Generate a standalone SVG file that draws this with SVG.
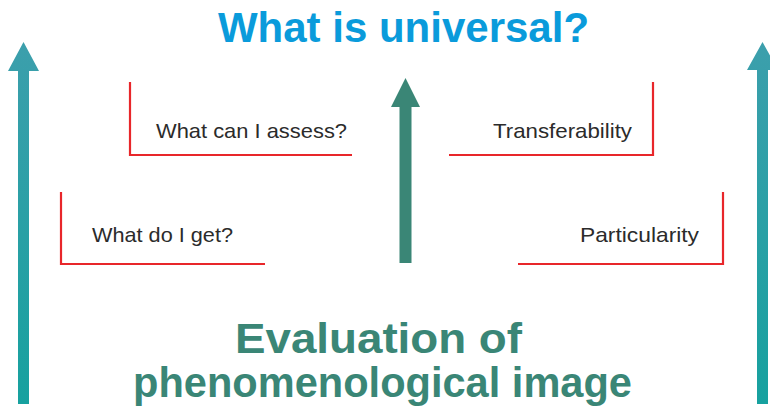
<svg xmlns="http://www.w3.org/2000/svg" width="770" height="410" viewBox="0 0 770 410">
  <defs>
    <linearGradient id="side" x1="0" y1="0" x2="0" y2="1">
      <stop offset="0" stop-color="#3c9fac"/>
      <stop offset="1" stop-color="#17a19f"/>
    </linearGradient>
    <style>
      .bracket { fill: none; stroke: #e8262a; stroke-width: 2.2; }
      .label { font-family: "Liberation Sans", Arial, sans-serif; font-size: 21px; fill: #2b2b2b; }
      .title { font-family: "Liberation Sans", Arial, sans-serif; font-size: 42px; font-weight: bold; fill: #0a9bdb; }
      .bottom { font-family: "Liberation Sans", Arial, sans-serif; font-size: 43px; font-weight: bold; fill: #3a8676; }
    </style>
  </defs>
  <rect width="770" height="410" fill="#ffffff"/>

  <g id="connectors">
    <path id="arrow-left" d="M18 404 L18 71 L8 71 L23.5 42 L39 71 L29 71 L29 404 Z" fill="url(#side)"/>
    <path id="arrow-right" d="M757 404 L757 70 L747 70 L762.5 42 L778 70 L768 70 L768 404 Z" fill="url(#side)"/>
    <path id="arrow-center" d="M399.5 263 L399.5 107 L391 107 L405.5 78 L420 107 L411.5 107 L411.5 263 Z" fill="#3a8676"/>
  </g>

  <g id="title">
    <text class="title" x="403.5" y="42" text-anchor="middle">What is universal?</text>
  </g>

  <g id="node-assess">
    <polyline class="bracket" points="130,82 130,155 352,155"/>
    <text class="label" x="156" y="138" textLength="191" lengthAdjust="spacingAndGlyphs">What can I assess?</text>
  </g>

  <g id="node-get">
    <polyline class="bracket" points="61,192 61,264 265,264"/>
    <text class="label" x="92" y="242" textLength="141" lengthAdjust="spacingAndGlyphs">What do I get?</text>
  </g>

  <g id="node-transfer">
    <polyline class="bracket" points="449,155 653,155 653,82"/>
    <text class="label" x="493" y="138" textLength="139" lengthAdjust="spacingAndGlyphs">Transferability</text>
  </g>

  <g id="node-particular">
    <polyline class="bracket" points="518,264 723,264 723,192"/>
    <text class="label" x="580" y="242" textLength="119" lengthAdjust="spacingAndGlyphs">Particularity</text>
  </g>

  <g id="bottom-label">
    <text class="bottom" x="378.5" y="353" text-anchor="middle" textLength="287" lengthAdjust="spacingAndGlyphs">Evaluation of</text>
    <text class="bottom" x="382.5" y="397" text-anchor="middle" textLength="499" lengthAdjust="spacingAndGlyphs">phenomenological image</text>
  </g>
</svg>
